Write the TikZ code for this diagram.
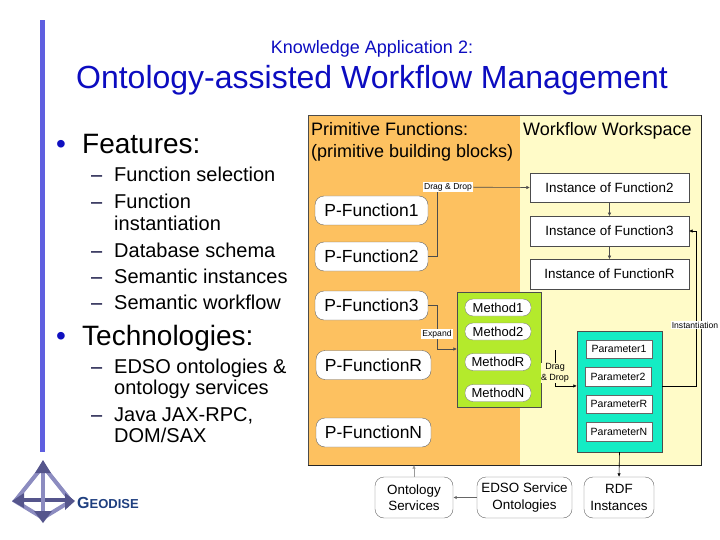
\documentclass[tikz,border=0pt]{standalone}
\usepackage{fontspec}
\setmainfont{Liberation Sans}
\usetikzlibrary{positioning}
\usetikzlibrary{arrows.meta}
\definecolor{barblue}{HTML}{5F5FE0}
\definecolor{inkblue}{HTML}{000033}
\definecolor{titleblue}{HTML}{0C0CC0}
\definecolor{bulletblue}{HTML}{1010C0}
\definecolor{panelorange}{HTML}{FDC160}
\definecolor{panelyellow}{HTML}{FFFBC8}
\definecolor{methodgreen}{HTML}{B4EA2C}
\definecolor{paramteal}{HTML}{14ECC4}
\definecolor{logoblue}{HTML}{8C8CC0}
\definecolor{logodark}{HTML}{55558C}
\definecolor{logotext}{HTML}{1F3F7F}
\newcommand{\pxfont}[1]{\fontsize{#1}{#1}\selectfont}

\begin{document}
\begin{tikzpicture}[x=1pt,y=-1pt,
	head1/.style={titleblue,anchor=base,inner sep=0pt},
	item1/.style={black,anchor=base west,inner sep=0pt,font=\pxfont{28}},
	item2/.style={black,anchor=base west,inner sep=0pt,font=\pxfont{20}},
	pnode/.style={draw=black!60,fill=white,rounded corners=9pt,minimum height=29pt,inner sep=0pt,font=\pxfont{17.5}},
	inode/.style={draw=black!70,fill=white,minimum width=159pt,minimum height=29.5pt,inner sep=0pt,font=\pxfont{13.4}},
	mnode/.style={draw=black!50,fill=white,rounded corners=8pt,minimum width=66pt,minimum height=17pt,inner sep=0pt,font=\pxfont{13}},
	anode/.style={draw=black!60,fill=white,minimum width=66pt,minimum height=18.5pt,inner sep=0pt,font=\pxfont{10.5}},
	onode/.style={draw=black!60,fill=white,rounded corners=9pt,minimum height=41pt,inner sep=0pt,align=center,font=\pxfont{13.4}},
	tagnode/.style={fill=white,inner sep=1pt,align=center,font=\pxfont{8.6}},
	link/.style={draw=black!70,line width=0.6pt,-{Latex[length=3.5pt,width=3.5pt]}},
	logoedge/.style={logoblue,line width=4pt},
	logoarm/.style={logodark,line width=4pt}]
	\useasboundingbox (0,0) rectangle (720,540);

	% left side of the slide
	\fill[barblue] (40,20) rectangle (45,452);
	\node[head1,font=\pxfont{18}] (subtitle) at (372,54) {Knowledge Application 2:};
	\node[head1,font=\pxfont{32}] (title) at (372,89) {Ontology-assisted Workflow Management};

	\node[item1,text=bulletblue] (b1) at (56,154) {•};
	\node[item1] (features) at (82,154) {Features:};
	\node[item1,text=bulletblue] (b2) at (56,345) {•};
	\node[item1] (technologies) at (82,345) {Technologies:};
	\foreach \y in {182,209,257,283,309,373,421}
		\node[item2,text=inkblue] (dash\y) at (91,\y) {–};
	\foreach \y/\txt in {182/Function selection,209/Function,230/instantiation,257/Database schema,283/Semantic instances,309/Semantic workflow,373/EDSO ontologies \&,394/ontology services}
		\node[item2] (line\y) at (114,\y) {\txt};
	\node[item2] (line421) at (114,421) {Java JAX-RPC,};
	\node[item2] (line442) at (114,442) {DOM/SAX};

	% logo
	\draw[logoedge] (43,466) -- (15,501) -- (43,518) -- (71,501) -- cycle;
	\draw[logoarm] (20,500) -- (68,500);
	\draw[logoedge] (43,466) -- (43,518);
	\fill[logodark] (43,460) -- (51,473) -- (35,473) -- cycle;
	\fill[logodark] (12,501) -- (24,493) -- (24,508) -- cycle;
	\fill[logodark] (75,501) -- (65,493) -- (65,510) -- cycle;
	\fill[logodark] (43,523) -- (34,511) -- (52,511) -- cycle;
	\node[inner sep=0pt,anchor=west,text=logotext,font=\bfseries\pxfont{13}] (geodise) at (77,503) {{\pxfont{16}G}EODISE};

	% the two panels
	\node[fill=panelorange,minimum width=212pt,minimum height=350pt,inner sep=0pt] (prim) at (414,290) {};
	\node[fill=panelyellow,minimum width=181pt,minimum height=350pt,inner sep=0pt] (work) at (610.5,290) {};
	\draw[black!70] (prim.south west) -- (prim.north west) -- (work.north east);
	\draw[black!85,line width=0.8pt] (prim.south west) -- (work.south east) -- (work.north east);
	\node[anchor=north west,inner sep=0pt,align=left,font=\pxfont{18}] (primhead) at (311,122) {Primitive Functions:\\[4pt](primitive building blocks)};
	\node[anchor=north west,inner sep=0pt,font=\pxfont{18}] (workhead) at (523,122) {Workflow Workspace};

	\node[pnode,minimum width=113pt] (f1) at (371.5,210.5) {P-Function1};
	\node[pnode,minimum width=113pt] (f2) at (371.5,256.5) {P-Function2};
	\node[pnode,minimum width=113pt] (f3) at (371.5,305.5) {P-Function3};
	\node[pnode,minimum width=115pt] (fr) at (373.5,365) {P-FunctionR};
	\node[pnode,minimum width=115pt] (fn) at (373.5,432.5) {P-FunctionN};

	\node[inode] (i2) at (609.5,187.5) {Instance of Function2};
	\node[inode] (i3) at (609.5,231) {Instance of Function3};
	\node[inode] (ir) at (609.5,274) {Instance of FunctionR};

	\node[draw=black!70,fill=methodgreen,minimum width=84pt,minimum height=115pt,inner sep=0pt] (methods) at (499,349.5) {};
	\node[mnode] (m1) at (498,307.5) {Method1};
	\node[mnode] (m2) at (498,331.5) {Method2};
	\node[mnode] (mr) at (498,362) {MethodR};
	\node[mnode] (mn) at (498,393) {MethodN};

	\node[draw=black!70,fill=paramteal,minimum width=85pt,minimum height=121pt,inner sep=0pt] (params) at (619.5,391.5) {};
	\node[anode] (a1) at (619,349) {Parameter1};
	\node[anode] (a2) at (618,376.5) {Parameter2};
	\node[anode] (ar) at (619,404) {ParameterR};
	\node[anode] (an) at (619,431.5) {ParameterN};

	\node[onode,minimum width=78pt] (osrv) at (414,497.5) {Ontology\\[3pt]Services};
	\node[onode,minimum width=95pt] (edso) at (524.5,497.5) {EDSO Service\\[3pt]Ontologies};
	\node[onode,minimum width=70pt] (rdf) at (619,497.5) {RDF\\[3pt]Instances};

	% connectors
	\coordinate (dragup) at (437,187);
	\coordinate (expdown) at (437,349);
	\coordinate (dragstart) at (555,350);
	\coordinate (instup) at (696,231);
	\draw[draw=black!70,line width=0.6pt] (f2.east) -| (dragup);
	\draw[link] (dragup) -- (i2.west);
	\draw[link] (i2) -- (i3);
	\draw[link] (i3) -- (ir);
	\draw[link] (f3.east) -| (expdown) -- (methods.west |- expdown);
	\draw[link,draw=black] (dragstart) |- (params.west |- a2.south);
	\draw[link,draw=black] (params.east |- a2.south) -| (instup) -- (i3.east);
	\draw[link,draw=black] (params.south) -- (rdf.north);
	\draw[link,draw=black!60,line width=1.2pt] (edso) -- (osrv);
	\draw[link,draw=black!40] (osrv) -- (prim.south -| osrv);

	\node[tagnode] (dragtag) at (448,187) {Drag \& Drop};
	\node[tagnode] (exptag) at (437,334) {Expand};
	\node[tagnode,font=\pxfont{9},inner sep=0pt,fill=panelyellow] (dragtag2) at (555,373) {Drag\\[2pt]\& Drop};
	\node[tagnode] (insttag) at (695,325) {Instantiation};
\end{tikzpicture}
\end{document}
